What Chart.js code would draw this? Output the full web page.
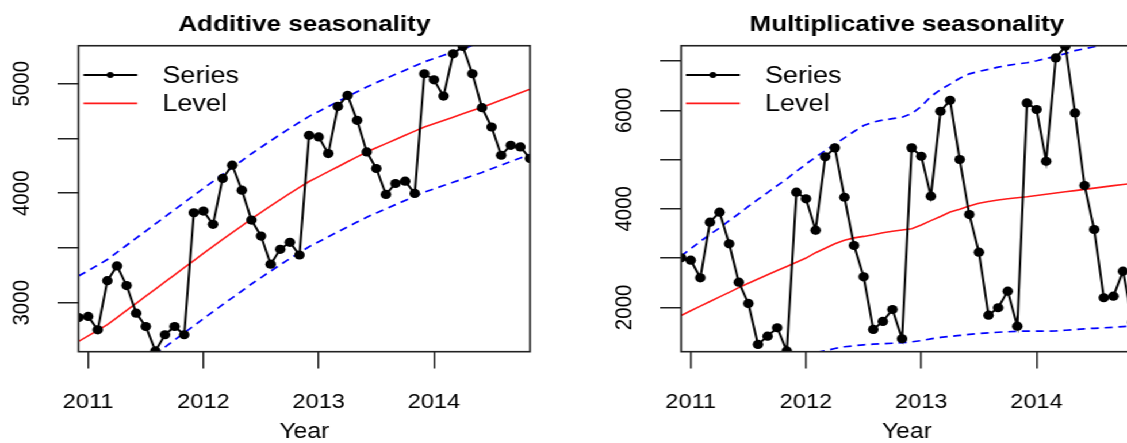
<!DOCTYPE html>
<html>
<head>
<meta charset="utf-8">
<title>Additive vs multiplicative seasonality</title>
<script src="https://cdn.jsdelivr.net/npm/chart.js@4.4.1/dist/chart.umd.min.js"></script>
<style>
  html, body { margin: 0; padding: 0; width: 1127px; height: 443px; overflow: hidden; background: #fff; }
  /* the source picture is a little stretched sideways, so is this */
  #stage { position: absolute; left: 0; top: 0; width: 1048px; height: 443px; transform: scaleX(1.15); transform-origin: 0 0; }
  #stage canvas { position: absolute; top: 0; }
</style>
</head>
<body>
<div id="stage">
  <canvas id="additive" width="524" height="443" style="left:0;width:524px;height:443px"></canvas>
  <canvas id="multiplicative" width="524" height="443" style="left:524px;width:524px;height:443px"></canvas>
</div>
<script>
// monthly observations, Dec 2010 - Nov 2014
var months = [
  '2010-12', '2011-01', '2011-02', '2011-03', '2011-04', '2011-05', '2011-06', '2011-07', '2011-08', '2011-09', '2011-10', '2011-11',
  '2011-12', '2012-01', '2012-02', '2012-03', '2012-04', '2012-05', '2012-06', '2012-07', '2012-08', '2012-09', '2012-10', '2012-11',
  '2012-12', '2013-01', '2013-02', '2013-03', '2013-04', '2013-05', '2013-06', '2013-07', '2013-08', '2013-09', '2013-10', '2013-11',
  '2013-12', '2014-01', '2014-02', '2014-03', '2014-04', '2014-05', '2014-06', '2014-07', '2014-08', '2014-09', '2014-10', '2014-11'
];

/* Additive panel */
var addSeries = [
  2865, 2875, 2753, 3202, 3336, 3157, 2905, 2783, 2560, 2708, 2783, 2708,
  3822, 3837, 3716, 4135, 4256, 4028, 3755, 3609, 3352, 3488, 3552, 3436,
  4529, 4514, 4362, 4793, 4893, 4666, 4377, 4226, 3989, 4089, 4110, 3998,
  5091, 5036, 4887, 5273, 5340, 5091, 4781, 4605, 4347, 4438, 4423, 4317
];
var addLevel = [
  2647, 2697, 2748, 2800, 2865, 2930, 2995, 3060, 3125, 3190, 3255, 3320,
  3385, 3450, 3514, 3578, 3640, 3702, 3766, 3825, 3884, 3942, 3998, 4053,
  4107, 4152, 4197, 4242, 4288, 4332, 4376, 4415, 4453, 4491, 4529, 4567,
  4605, 4635, 4665, 4695, 4725, 4755, 4785, 4818, 4851, 4884, 4917, 4950
];
var addUpper = [
  3245, 3292, 3343, 3395, 3460, 3525, 3590, 3655, 3720, 3785, 3850, 3915,
  3980, 4045, 4109, 4173, 4235, 4297, 4361, 4420, 4479, 4537, 4593, 4648,
  4702, 4747, 4792, 4837, 4883, 4927, 4971, 5010, 5048, 5086, 5124, 5162,
  5200, 5230, 5260, 5290, 5320, 5350, 5380, 5413, 5446, 5479, 5512, 5545
];
var addLower = [
  2050, 2102, 2153, 2205, 2270, 2335, 2400, 2465, 2530, 2595, 2660, 2725,
  2790, 2855, 2919, 2983, 3045, 3107, 3171, 3230, 3289, 3347, 3403, 3458,
  3512, 3557, 3602, 3647, 3693, 3737, 3781, 3820, 3858, 3896, 3934, 3972,
  4010, 4040, 4070, 4100, 4130, 4160, 4190, 4223, 4256, 4289, 4322, 4355
];
var addTicks = [3000, 3500, 4000, 4500, 5000];
var addTickLabels = ['3000', '', '4000', '', '5000'];

/* Multiplicative panel */
var mulSeries = [
  3006, 2957, 2600, 3728, 3931, 3290, 2511, 2079, 1247, 1416, 1586, 1115,
  4337, 4203, 3566, 5055, 5237, 4235, 3256, 2620, 1552, 1715, 1957, 1363,
  5237, 5067, 4256, 5980, 6203, 5000, 3884, 3120, 1842, 1992, 2329, 1619,
  6150, 6014, 4966, 7063, 7300, 5947, 4473, 3580, 2195, 2227, 2734, 1700
];
var mulLevel = [
  1836, 1930, 2025, 2118, 2212, 2305, 2400, 2488, 2575, 2662, 2748, 2830,
  2915, 3000, 3110, 3200, 3290, 3360, 3410, 3440, 3475, 3515, 3545, 3570,
  3595, 3670, 3760, 3845, 3935, 3990, 4055, 4115, 4150, 4180, 4205, 4225,
  4245, 4270, 4295, 4320, 4345, 4370, 4395, 4420, 4445, 4470, 4495, 4515
];
var mulUpper = [
  3040, 3190, 3340, 3480, 3610, 3760, 3900, 4050, 4190, 4330, 4470, 4610,
  4760, 4910, 5050, 5180, 5310, 5440, 5570, 5690, 5760, 5800, 5830, 5860,
  5930, 6080, 6280, 6420, 6530, 6650, 6740, 6790, 6830, 6875, 6910, 6940,
  6965, 7005, 7050, 7095, 7150, 7210, 7250, 7290, 7330, 7370, 7400, 7430
];
var mulLower = [
  640, 670, 700, 730, 760, 790, 820, 850, 880, 910, 940, 970,
  1000, 1040, 1080, 1120, 1165, 1200, 1220, 1240, 1252, 1262, 1272, 1282,
  1300, 1325, 1360, 1390, 1410, 1430, 1450, 1468, 1482, 1495, 1505, 1515,
  1517, 1518, 1518, 1522, 1535, 1550, 1565, 1575, 1585, 1595, 1610, 1625
];
var mulTicks = [2000, 3000, 4000, 5000, 6000, 7000];
var mulTickLabels = ['2000', '', '4000', '', '6000', ''];

var yearTicks = [2011, 2012, 2013, 2014];

Chart.defaults.font.family = "'Liberation Sans', Arial, sans-serif";
Chart.defaults.color = '#000';

function toYear(m) {
  return Number(m.slice(0, 4)) + (Number(m.slice(5)) - 1) / 12;
}

function points(values) {
  return values.map(function(v, i) { return { x: toYear(months[i]), y: v }; });
}

// R style box round the plot region
var plotBox = {
  id: 'plotBox',
  afterDraw: function(chart) {
    var a = chart.chartArea, ctx = chart.ctx;
    ctx.save();
    ctx.strokeStyle = '#222';
    ctx.lineWidth = 1.6;
    ctx.strokeRect(a.left, a.top, a.right - a.left, a.bottom - a.top);
    ctx.restore();
  }
};

// legend inside the top-left corner, no frame (bty = "n")
var insideLegend = {
  id: 'insideLegend',
  afterDraw: function(chart) {
    var a = chart.chartArea, ctx = chart.ctx;
    var shown = chart.data.datasets.filter(function(ds) { return ds.inLegend; });
    ctx.save();
    shown.forEach(function(ds, i) {
      var y = a.top + 29.3 + i * 28.3;
      var x0 = a.left + 4.2, x1 = a.left + 51;
      ctx.strokeStyle = ds.borderColor;
      ctx.lineWidth = ds.borderWidth;
      ctx.beginPath();
      ctx.moveTo(x0, y);
      ctx.lineTo(x1, y);
      ctx.stroke();
      if (ds.pointRadius) {
        ctx.fillStyle = ds.pointBackgroundColor;
        ctx.beginPath();
        ctx.arc((x0 + x1) / 2, y, 3, 0, 2 * Math.PI);
        ctx.fill();
      }
      ctx.fillStyle = '#000';
      ctx.font = "23.5px 'Liberation Sans', Arial, sans-serif";
      ctx.textBaseline = 'middle';
      ctx.textAlign = 'left';
      ctx.fillText(ds.label, a.left + 72.9, y + 1.5);
    });
    ctx.restore();
  }
};

function makePanel(id, title, series, level, upper, lower, yMin, yMax, yTicks, yTickLabels) {
  var tickGrid = { drawOnChartArea: false, drawTicks: true, color: '#222', lineWidth: 1.5 };
  return new Chart(document.getElementById(id), {
    type: 'line',
    data: {
      datasets: [{
        label: 'Series',
        inLegend: true,
        data: points(series),
        borderColor: '#000',
        borderWidth: 2,
        pointRadius: 4.6,
        pointBackgroundColor: '#000',
        pointBorderWidth: 0,
        tension: 0
      }, {
        label: 'Level',
        inLegend: true,
        data: points(level),
        borderColor: '#ff1a1a',
        borderWidth: 1.6,
        pointRadius: 0,
        tension: 0
      }, {
        label: 'Upper',
        data: points(upper),
        borderColor: '#0000ff',
        borderWidth: 1.7,
        borderDash: [7, 5],
        pointRadius: 0,
        tension: 0
      }, {
        label: 'Lower',
        data: points(lower),
        borderColor: '#0000ff',
        borderWidth: 1.7,
        borderDash: [7, 5],
        pointRadius: 0,
        tension: 0
      }]
    },
    options: {
      responsive: false,
      animation: false,
      devicePixelRatio: 1,
      layout: { padding: { left: 0, right: 63.1, top: 0, bottom: 0 } },
      plugins: {
        legend: { display: false },
        tooltip: { enabled: false },
        title: {
          display: true,
          text: title,
          fullSize: false,
          color: '#000',
          font: { size: 22.7, weight: 'bold', lineHeight: 1.2 },
          padding: { top: 10.9, bottom: 7.6 }
        }
      },
      scales: {
        x: {
          type: 'linear',
          min: toYear(months[0]),
          max: toYear(months[months.length - 1]),
          afterBuildTicks: function(scale) {
            scale.ticks = yearTicks.map(function(v) { return { value: v }; });
          },
          afterFit: function(scale) { scale.height = 91.3; },
          grid: Object.assign({ tickLength: 16.7 }, tickGrid),
          border: { display: false },
          ticks: {
            padding: 22,
            maxRotation: 0,
            autoSkip: false,
            font: { size: 20.5 },
            callback: function(v) { return String(v); }
          },
          title: {
            display: true,
            text: 'Year',
            font: { size: 21.5, lineHeight: 1 },
            padding: { top: 0, bottom: 0 }
          }
        },
        y: {
          min: yMin,
          max: yMax,
          afterBuildTicks: function(scale) {
            scale.ticks = yTicks.map(function(v) { return { value: v }; });
          },
          afterFit: function(scale) { scale.width = 68.3; },
          grid: Object.assign({ tickLength: 18.3 }, tickGrid),
          border: { display: false },
          ticks: {
            padding: 7.6,
            minRotation: 90,
            maxRotation: 90,
            crossAlign: 'center',
            autoSkip: false,
            font: { size: 20.5 },
            callback: function(v) { return yTickLabels[yTicks.indexOf(v)]; }
          }
        }
      }
    },
    plugins: [plotBox, insideLegend]
  });
}

makePanel('additive', 'Additive seasonality', addSeries, addLevel, addUpper, addLower,
  2553, 5347, addTicks, addTickLabels);
makePanel('multiplicative', 'Multiplicative seasonality', mulSeries, mulLevel, mulUpper, mulLower,
  1100, 7310, mulTicks, mulTickLabels);
</script>
</body>
</html>
